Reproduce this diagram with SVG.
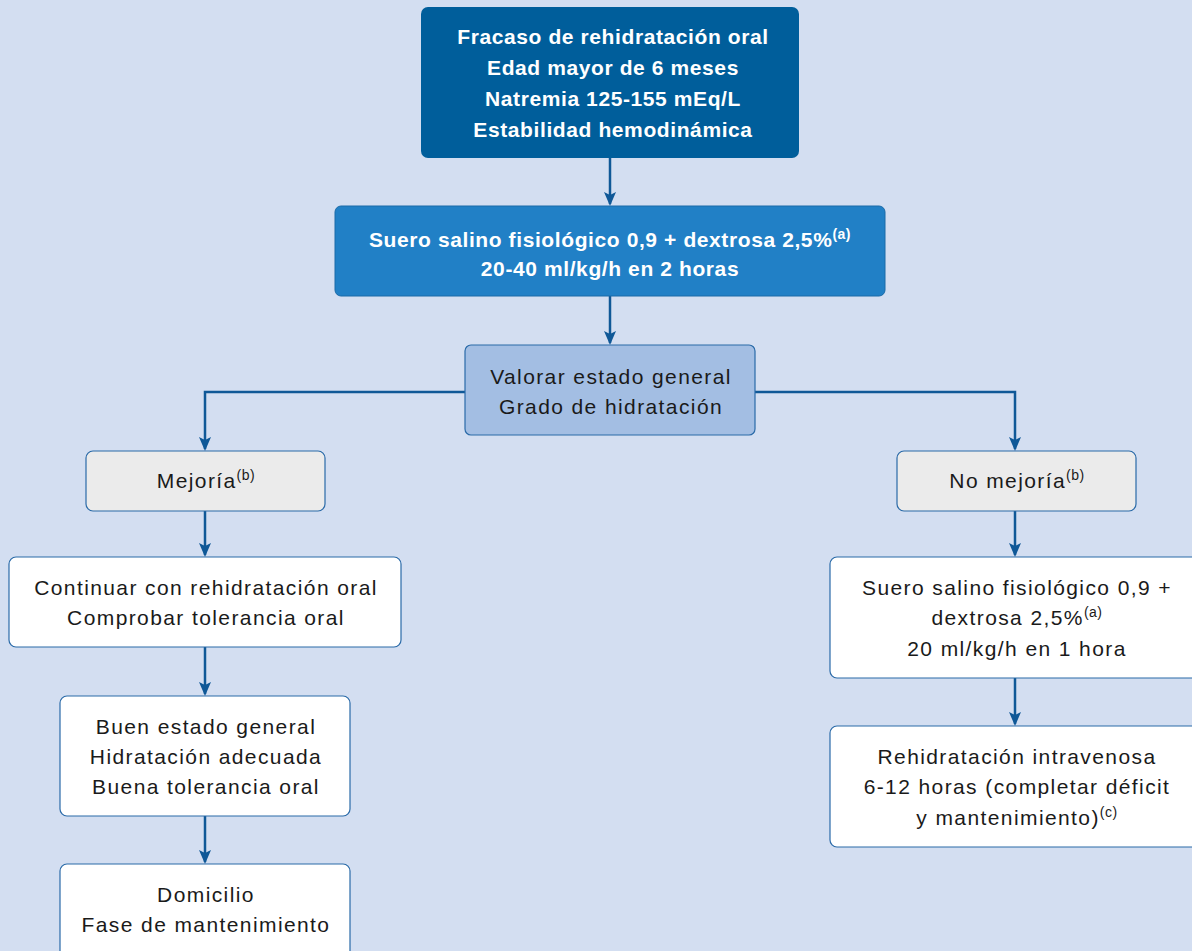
<svg xmlns="http://www.w3.org/2000/svg" width="1192" height="951" viewBox="0 0 1192 951">
<style>
.t{font-family:"Liberation Sans",Arial,sans-serif;font-size:21px;fill:#1a1a1a;text-anchor:middle;letter-spacing:1.4px}
.b{font-weight:bold;fill:#ffffff;letter-spacing:0.6px}
.sup{font-size:14px;letter-spacing:0.5px}
.box{stroke:#2a6aa8;stroke-width:1.2}
.con{fill:none;stroke:#0f5897;stroke-width:2.5}
</style>
<defs>
<marker id="ah" markerWidth="14" markerHeight="16" refX="12" refY="6" orient="auto" markerUnits="userSpaceOnUse" viewBox="0 0 14 12">
<path d="M0,0 L14,6 L0,12 L3,6 Z" fill="#0f5897"/>
</marker>
</defs>
<rect x="0" y="0" width="1192" height="951" fill="#d3def1"/>
<g id="connectors">
<path class="con" d="M610,158 V204" marker-end="url(#ah)"/>
<path class="con" d="M610,296 V343" marker-end="url(#ah)"/>
<path class="con" d="M465,392 H205 V449" marker-end="url(#ah)"/>
<path class="con" d="M755,392 H1015 V449" marker-end="url(#ah)"/>
<path class="con" d="M205,511 V555" marker-end="url(#ah)"/>
<path class="con" d="M205,647 V694" marker-end="url(#ah)"/>
<path class="con" d="M205,816 V862" marker-end="url(#ah)"/>
<path class="con" d="M1015,511 V555" marker-end="url(#ah)"/>
<path class="con" d="M1015,678 V724" marker-end="url(#ah)"/>
</g>
<g id="n1">
<rect x="421" y="7" width="378" height="151" rx="7" fill="#005e9b"/>
<text class="t b" x="613" y="44">Fracaso de rehidratación oral</text>
<text class="t b" x="613" y="75">Edad mayor de 6 meses</text>
<text class="t b" x="613" y="106">Natremia 125-155 mEq/L</text>
<text class="t b" x="613" y="137">Estabilidad hemodinámica</text>
</g>
<g id="n2">
<rect x="335" y="206" width="550" height="90" rx="6" fill="#2180c6" stroke="#1a6aa8" stroke-width="1"/>
<text class="t b" x="610" y="247">Suero salino fisiológico 0,9 + dextrosa 2,5%<tspan class="sup" dy="-8">(a)</tspan></text>
<text class="t b" x="610" y="276">20-40 ml/kg/h en 2 horas</text>
</g>
<g id="n3">
<rect x="465" y="345" width="290" height="90" rx="6" fill="#a3bee3" class="box"/>
<text class="t" x="611" y="384">Valorar estado general</text>
<text class="t" x="611" y="414">Grado de hidratación</text>
</g>
<g id="n4">
<rect x="86" y="451" width="239" height="60" rx="7" fill="#ebebeb" class="box"/>
<text class="t" x="206" y="488">Mejoría<tspan class="sup" dy="-8">(b)</tspan></text>
</g>
<g id="n5">
<rect x="897" y="451" width="239" height="60" rx="7" fill="#ebebeb" class="box"/>
<text class="t" x="1017" y="488">No mejoría<tspan class="sup" dy="-8">(b)</tspan></text>
</g>
<g id="n6">
<rect x="9" y="557" width="392" height="90" rx="7" fill="#ffffff" class="box"/>
<text class="t" x="206" y="595">Continuar con rehidratación oral</text>
<text class="t" x="206" y="625">Comprobar tolerancia oral</text>
</g>
<g id="n7">
<rect x="60" y="696" width="290" height="120" rx="7" fill="#ffffff" class="box"/>
<text class="t" x="206" y="734">Buen estado general</text>
<text class="t" x="206" y="764">Hidratación adecuada</text>
<text class="t" x="206" y="794">Buena tolerancia oral</text>
</g>
<g id="n8">
<rect x="60" y="864" width="290" height="100" rx="7" fill="#ffffff" class="box"/>
<text class="t" x="206" y="902">Domicilio</text>
<text class="t" x="206" y="932">Fase de mantenimiento</text>
</g>
<g id="n9">
<rect x="830" y="557" width="380" height="121" rx="7" fill="#ffffff" class="box"/>
<text class="t" x="1017" y="595">Suero salino fisiológico 0,9 +</text>
<text class="t" x="1017" y="625">dextrosa 2,5%<tspan class="sup" dy="-8">(a)</tspan></text>
<text class="t" x="1017" y="656">20 ml/kg/h en 1 hora</text>
</g>
<g id="n10">
<rect x="830" y="726" width="380" height="121" rx="7" fill="#ffffff" class="box"/>
<text class="t" x="1017" y="764">Rehidratación intravenosa</text>
<text class="t" x="1017" y="794">6-12 horas (completar déficit</text>
<text class="t" x="1017" y="825">y mantenimiento)<tspan class="sup" dy="-8">(c)</tspan></text>
</g>
</svg>
